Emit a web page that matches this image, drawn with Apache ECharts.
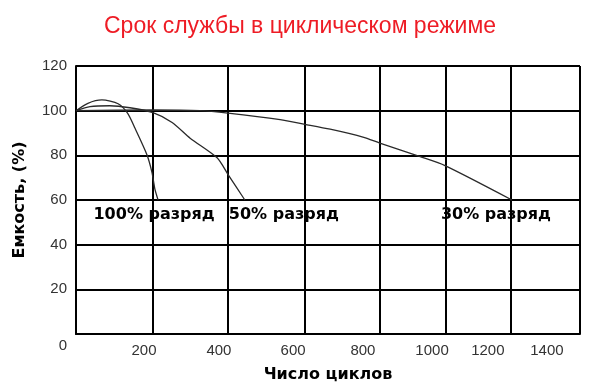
<!DOCTYPE html>
<html><head><meta charset="utf-8">
<script src="https://cdn.jsdelivr.net/npm/echarts@6/dist/echarts.min.js"></script>
<style>html,body{margin:0;padding:0;background:#fff}#c{width:600px;height:388px}</style>
</head><body><div id="c"></div>
<script>
const titleText = 'Срок службы в циклическом режиме';
const yName = 'Емкость, (%)';
const xName = 'Число циклов';
const seriesNames = ['100% разряд', '50% разряд', '30% разряд'];
const cycles100 = [0, 33, 72, 117, 144, 164, 197, 211, 219, 228];
const cap100 = [100, 103.3, 104.8, 103.1, 98.7, 92.1, 80.3, 72.4, 65, 60];
const cycles50 = [0, 39, 94, 150, 214, 267, 317, 392, 422, 469];
const cap50 = [100, 101.8, 102.2, 101.3, 99.1, 94.7, 87.7, 78.9, 71.5, 60];
const cycles30 = [0, 214, 344, 422, 567, 636, 706, 797, 844, 956, 1025, 1211];
const cap30 = [100, 100.3, 100, 98.9, 96, 93.9, 91.7, 88.2, 85.5, 79.4, 75.4, 60];
const xGridValues = [0, 214, 422, 636, 844, 1028, 1208, 1400];
const xLabelValues = [189, 397, 603, 797, 989, 1144, 1308];
const xTickLabels = ['200', '400', '600', '800', '1000', '1200', '1400'];

const pairs = (xs, ys) => xs.map((x, i) => [x, ys[i]]);
const lineCol = '#2a2a2a';
const labelFont = { fontFamily: 'DejaVu Sans', fontWeight: 'bold', fontSize: 16, color: '#000' };

function mkSeries(name, xs, ys, off) {
  return {
    name: name, type: 'line', data: pairs(xs, ys), showSymbol: false, smooth: 0.25,
    lineStyle: { color: lineCol, width: 1.3 },
    markPoint: {
      symbol: 'circle', symbolSize: 0, animation: false,
      data: [{ coord: [xs[xs.length - 1], ys[ys.length - 1]] }],
      label: Object.assign({ show: true, position: 'inside', formatter: name, offset: off }, labelFont)
    }
  };
}

const chart = echarts.init(document.getElementById('c'));
chart.setOption({
  animation: false,
  backgroundColor: '#fff',
  title: {
    text: titleText, left: 'center', top: 10,
    textStyle: { color: '#ee1c25', fontSize: 23, fontWeight: 'normal', fontFamily: 'Liberation Sans' }
  },
  grid: { left: 76, right: 20, top: 66, bottom: 50 },
  xAxis: {
    type: 'value', min: 0, max: 1400,
    name: xName, nameLocation: 'middle', nameGap: 33,
    nameTextStyle: { fontFamily: 'DejaVu Sans', fontWeight: 'bold', fontSize: 16, color: '#000' },
    axisLine: { lineStyle: { color: '#000', width: 2 } },
    axisTick: { show: false, customValues: xGridValues },
    splitLine: { show: true, lineStyle: { color: '#000', width: 2 } },
    axisLabel: {
      customValues: xLabelValues, margin: 9,
      fontFamily: 'Liberation Sans', fontSize: 15, color: '#333',
      formatter: function (v) {
        for (let i = 0; i < xLabelValues.length; i++) if (Math.abs(xLabelValues[i] - v) < 0.5) return xTickLabels[i];
        return '';
      }
    }
  },
  yAxis: {
    type: 'value', min: 0, max: 120, interval: 20,
    name: yName, nameLocation: 'middle', nameGap: 48, nameRotate: 90,
    nameTextStyle: { fontFamily: 'DejaVu Sans', fontWeight: 'bold', fontSize: 16, color: '#000' },
    axisLine: { show: true, lineStyle: { color: '#000', width: 2 } },
    axisTick: { show: false },
    splitLine: { show: true, lineStyle: { color: '#000', width: 2 } },
    axisLabel: {
      margin: 9, fontFamily: 'Liberation Sans', fontSize: 15, color: '#333',
      formatter: function (v) { return v === 0 ? '{z|0}' : String(v); },
      rich: { z: { fontFamily: 'Liberation Sans', fontSize: 15, color: '#333', padding: [24, 0, 0, 0] } }
    }
  },
  series: [
    mkSeries(seriesNames[0], cycles100, cap100, [-4, 15]),
    mkSeries(seriesNames[1], cycles50, cap50, [39, 15]),
    mkSeries(seriesNames[2], cycles30, cap30, [-16, 15])
  ]
});
</script>
</body></html>
